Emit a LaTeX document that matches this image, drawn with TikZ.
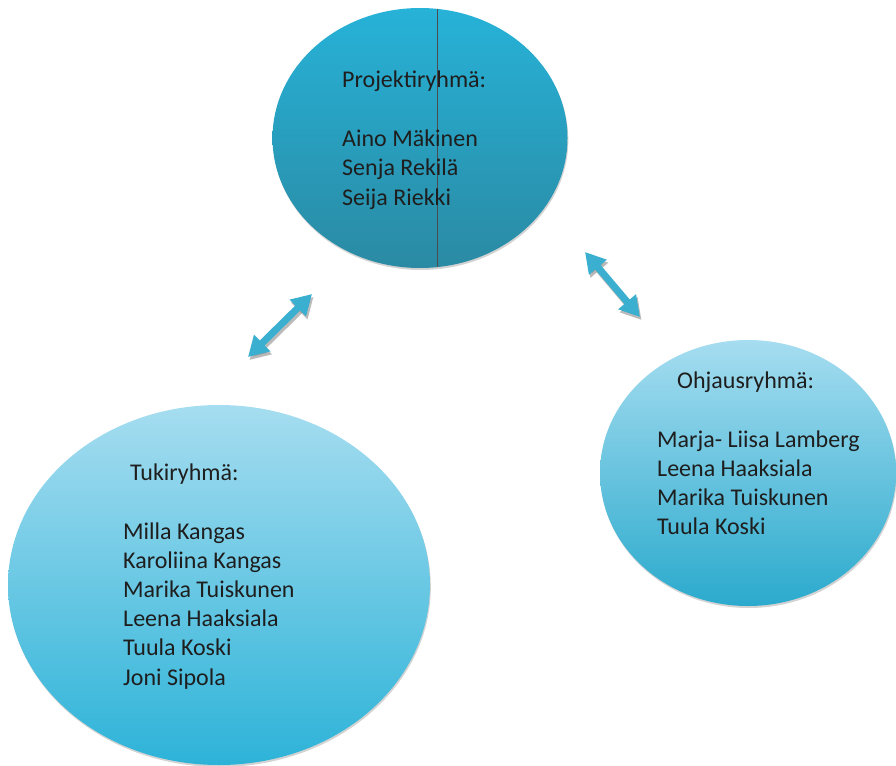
\documentclass[tikz,border=0pt]{standalone}
\usepackage{fontspec}
\setmainfont{Carlito}
\usetikzlibrary{shapes.geometric,arrows.meta,shadows}
\definecolor{txt}{HTML}{1E1E1E}
\definecolor{topA}{HTML}{27B2D8}
\definecolor{topB}{HTML}{2A8AA3}
\definecolor{lightA}{HTML}{A6DDF0}
\definecolor{lightB}{HTML}{2DB3D8}
\definecolor{arrowc}{HTML}{3AAFCF}
\tikzset{
  bubble/.style={ellipse, inner sep=0pt, draw=none,
    drop shadow={opacity=0.35, shadow xshift=0.8pt, shadow yshift=-2pt}},
  label/.style={anchor=base west, inner sep=0pt, text=txt,
    font=\fontsize{24}{29.3}\selectfont},
  dbl/.style={line width=7pt, arrowc, {Triangle[length=20pt,width=22pt]}-{Triangle[length=20pt,width=22pt]}},
  dblshadow/.style={line width=7pt, black!45, opacity=0.6, {Triangle[length=20pt,width=22pt]}-{Triangle[length=20pt,width=22pt]}}
}
\begin{document}
\begin{tikzpicture}[x=1pt,y=-1pt]
\useasboundingbox (0,0) rectangle (896,765);
% ellipses
\node[bubble, minimum width=295pt, minimum height=260pt, top color=topA, bottom color=topB] (proj) at (420,138) {};
\node[bubble, minimum width=422pt, minimum height=360pt, top color=lightA, bottom color=lightB] (tuki) at (219,585) {};
\node[bubble, minimum width=296pt, minimum height=266pt, top color=lightA, bottom color=lightB!95!black] (ohj) at (748,473) {};
% thin vertical line in top ellipse
\coordinate (vt) at (437,9);
\coordinate (vb) at (437,267);
\draw[line width=0.6pt, black!70] (vt) -- (vb);
% texts: top
\node[label] (p0) at (342,88) {Projektiryhmä:};
\node[label] (p1) at (342,146.6) {Aino Mäkinen};
\node[label] (p2) at (342,175.9) {Senja Rekilä};
\node[label] (p3) at (342,205.2) {Seija Riekki};
% texts: right
\node[label] (o0) at (677,388) {Ohjausryhmä:};
\node[label] (o1) at (657,447) {Marja- Liisa Lamberg};
\node[label] (o2) at (657,476.3) {Leena Haaksiala};
\node[label] (o3) at (657,505.6) {Marika Tuiskunen};
\node[label] (o4) at (657,534.9) {Tuula Koski};
% texts: left
\node[label] (t0) at (130,480) {Tukiryhmä:};
\node[label] (t1) at (123,539) {Milla Kangas};
\node[label] (t2) at (123,568.2) {Karoliina Kangas};
\node[label] (t3) at (123,597.4) {Marika Tuiskunen};
\node[label] (t4) at (123,626.6) {Leena Haaksiala};
\node[label] (t5) at (123,655.8) {Tuula Koski};
\node[label] (t6) at (123,685) {Joni Sipola};
% arrows
\coordinate (la) at (248,357);
\coordinate (lb) at (312,294);
\coordinate (ra) at (585,252);
\coordinate (rb) at (640,317);
\coordinate (las) at (249.5,360);
\coordinate (lbs) at (313.5,297);
\coordinate (ras) at (586.5,255);
\coordinate (rbs) at (641.5,320);
\draw[dblshadow] (las) -- (lbs);
\draw[dblshadow] (ras) -- (rbs);
\draw[dbl] (la) -- (lb);
\draw[dbl] (ra) -- (rb);
\end{tikzpicture}
\end{document}
